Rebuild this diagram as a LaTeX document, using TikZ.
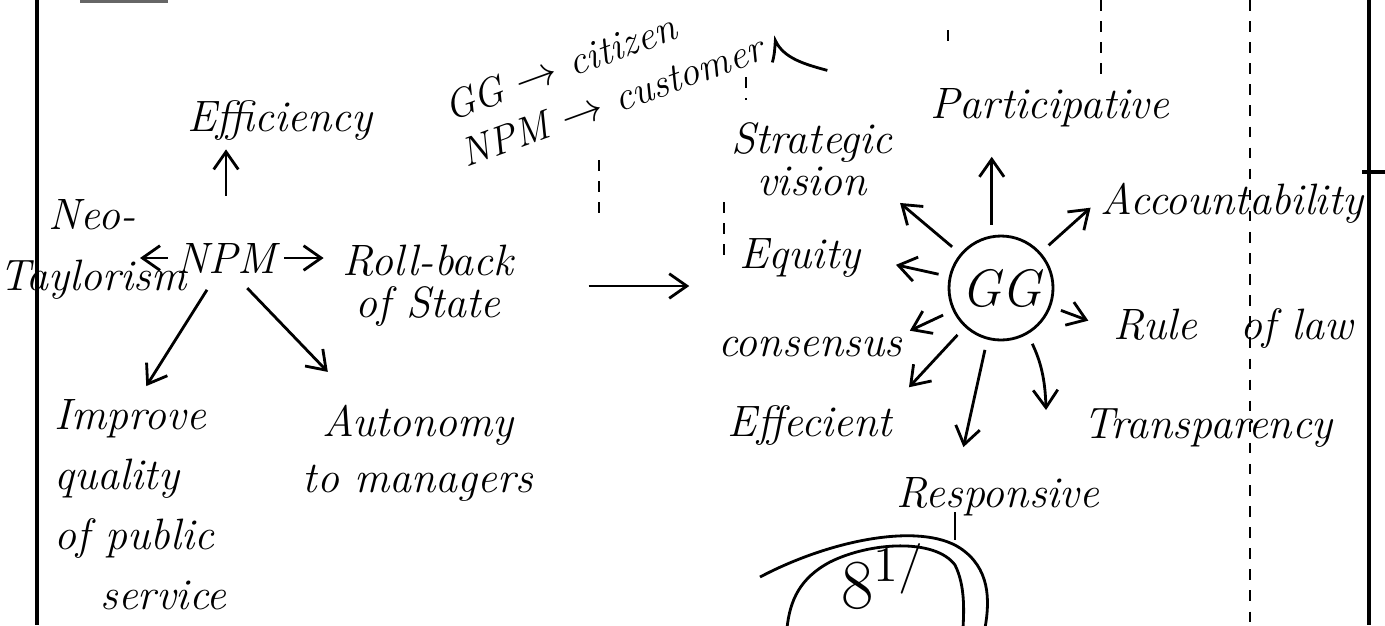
\documentclass[tikz,border=0pt]{standalone}
\usepackage{fontspec}
\usetikzlibrary{arrows.meta}
\newcommand\handfont{\fontsize{12.5}{12}\selectfont\itshape}

\begin{document}
\begin{tikzpicture}[x=0.1mm,y=-0.1mm,line width=.8pt,
  txt/.style={font=\handfont,inner sep=1pt},
  arr/.style={-{Straight Barb[length=5pt,width=7pt]},shorten <=3pt}]
\useasboundingbox (0,0) rectangle (1385,625);
% page rulings
\draw[line width=1pt] (37,0)--(37,625);
\draw[line width=1pt] (1369,0)--(1369,625) (1362,172)--(1385,172);
\draw[line width=1.2pt,black!60] (80,1)--(168,1);
\draw[line width=.5pt,dashed] (1250,0)--(1250,625) (1101,0)--(1101,75);
\foreach \x/\ya/\yb in {599/160/217,724/202/255,746/77/100,948/30/50}
  \draw[line width=.5pt,dashed] (\x,\ya)--(\x,\yb);
% NPM
\node[txt] (eff) at (280,121) {Efficiency};
\node[txt,font=\fontsize{11.5}{14}\selectfont\itshape,align=left,rotate=20,anchor=north west] (versus) at (434,92)
  {GG $\rightarrow$ citizen\\NPM $\rightarrow$ customer};
\draw (versus.south east) .. controls +(2,-8) .. ++(3,-22) .. controls +(8,18) and +(-22,-6) .. ++(52,30);
\node[txt] (neo) at (92,215) {Neo-};
\node[txt] (taylor) at (93,280) {Taylorism};
\node[txt] (npm) at (226,258) {NPM};
\node[txt,align=center] (roll) at (428,286) {Roll-back\\of State};
\node[txt,align=left,anchor=north west] (improve) at (50,395)
  {Improve\\[5pt]quality\\[5pt]of public\\[5pt]\hspace{13pt}service};
\node[txt,align=center] (auto) at (418,453) {Autonomy\\[4pt]to managers};
\coordinate (tay) at (140,258);
\draw[arr,shorten <=1pt] (npm.west) -- (tay);
\draw[arr,shorten <=12pt,shorten >=1pt] (npm.north) -- (npm.north |- eff.south);
\draw[arr,shorten <=1pt,shorten >=4pt] (npm.east) -- (npm.east -| roll.west);
\draw[arr,shorten <=4pt,shorten >=3pt] (npm.240) -- (improve.north);
\draw[arr,shorten <=4pt,shorten >=11pt] (npm.300) -- (auto.140);
% GG
\node[txt,circle,draw,minimum size=10.4mm,font=\fontsize{15}{15}\selectfont\itshape] (gg) at (1001,288) {GG};
\node[txt,align=center] (strat) at (812,159) {Strategic\\vision};
\node[txt] (part) at (1050,108) {Participative};
\node[txt] (acc) at (1232,203) {Accountability};
\node[txt] (equity) at (800,258) {Equity};
\node[txt] (rule) at (1233,328) {Rule\quad of law};
\node[txt] (cons) at (810,347) {consensus};
\node[txt] (effi) at (810,425) {Effecient};
\node[txt] (trans) at (1208,428) {Transparency};
\node[txt] (resp) at (998,497) {Responsive};
\coordinate (tr) at (1046,410);
\draw[arr,shorten <=20pt,shorten >=13pt] (roll.east) -- (roll.east -| equity.west);
\foreach \src/\dst/\gap in {gg/strat.south east/1pt,gg/equity.east/9pt,gg/cons.north east/1pt,
  gg/effi.north east/5pt,gg/acc.west/2pt,gg/rule.west/6pt,gg.255/resp.149/7.5pt}
  \draw[arr,shorten >=\gap] (\src) -- (\dst);
\draw[arr,shorten >=7pt] (gg.100) -- (gg.100 |- part.south);
\draw[arr,shorten >=0pt] (gg.300) to[bend left=12] (tr);
% circled mark
\node[font=\fontsize{20}{20}\selectfont,inner sep=0pt,anchor=base west] (mark) at (840,608) {8$^{1/}$};
\draw (760,577) .. controls (830,540) and (920,522) .. (960,548) .. controls (990,568) and (990,600) .. (985,628);
\draw (787,628) .. controls (790,600) and (800,578) .. (830,562) .. controls (870,542) and (935,538) .. (955,565) .. controls (965,585) and (964,610) .. (963,628);
\draw (955,512) -- (955,540);
\end{tikzpicture}
\end{document}
